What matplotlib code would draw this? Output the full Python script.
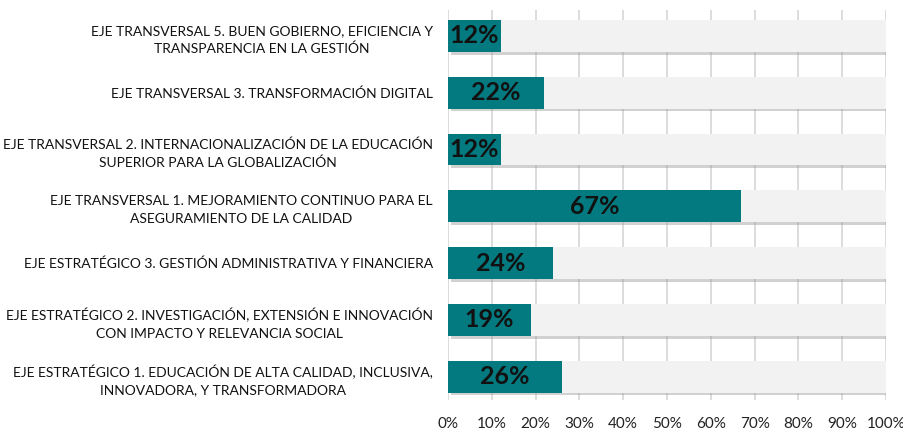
import matplotlib
matplotlib.use("Agg")
import matplotlib.pyplot as plt
import matplotlib.patheffects as pe
import numpy as np

plt.rcParams['font.family'] = ['Lato', 'DejaVu Sans']

# Data (bottom to top)
categories = [
    "EJE ESTRATÉGICO 1. EDUCACIÓN DE ALTA CALIDAD, INCLUSIVA,\nINNOVADORA, Y TRANSFORMADORA",
    "EJE ESTRATÉGICO 2. INVESTIGACIÓN, EXTENSIÓN E INNOVACIÓN\nCON IMPACTO Y RELEVANCIA SOCIAL",
    "EJE ESTRATÉGICO 3. GESTIÓN ADMINISTRATIVA Y FINANCIERA",
    "EJE TRANSVERSAL 1. MEJORAMIENTO CONTINUO PARA EL\nASEGURAMIENTO DE LA CALIDAD",
    "EJE TRANSVERSAL 2. INTERNACIONALIZACIÓN DE LA EDUCACIÓN\nSUPERIOR PARA LA GLOBALIZACIÓN",
    "EJE TRANSVERSAL 3. TRANSFORMACIÓN DIGITAL",
    "EJE TRANSVERSAL 5. BUEN GOBIERNO, EFICIENCIA Y\nTRANSPARENCIA EN LA GESTIÓN",
]
values = [26, 19, 24, 67, 12, 22, 12]
total = [100] * len(values)
xticks = list(range(0, 101, 10))

fig = plt.figure(figsize=(9.04, 4.29), dpi=100)
ax = fig.add_axes([0.4956, 0.0676, 0.4845, 0.9094])

y = np.arange(len(categories))
shadow = [pe.SimplePatchShadow(offset=(2, -2), shadow_rgbFace='#9a9a9a', alpha=0.45), pe.Normal()]
ax.barh(y, total, height=0.56, color='#F2F2F2', zorder=2, path_effects=shadow)
bars = ax.barh(y, values, height=0.56, color='#027A80', zorder=3)

for b, v in zip(bars, values):
    ax.text(b.get_x() + b.get_width() / 2, b.get_y() + b.get_height() / 2, f"{v}%",
            ha='center', va='center', fontsize=18, fontweight='bold', color='#111111', zorder=4)

ax.set_xlim(0, 100)
ax.set_ylim(-0.41, 6.46)
ax.set_xticks(xticks)
ax.set_xticklabels([f"{t}%" for t in xticks], fontsize=11, color='#222222')
ax.set_yticks(y)
ax.set_yticklabels(categories, fontsize=10, color='#111111', multialignment='center', linespacing=1.55)
ax.tick_params(axis='both', length=0)
ax.tick_params(axis='x', pad=12)
ax.tick_params(axis='y', pad=11)
ax.grid(axis='x', color='#D9D9D9', linewidth=1.3, zorder=0)
for s in ax.spines.values():
    s.set_visible(False)

fig.savefig("out.png", dpi=100)
